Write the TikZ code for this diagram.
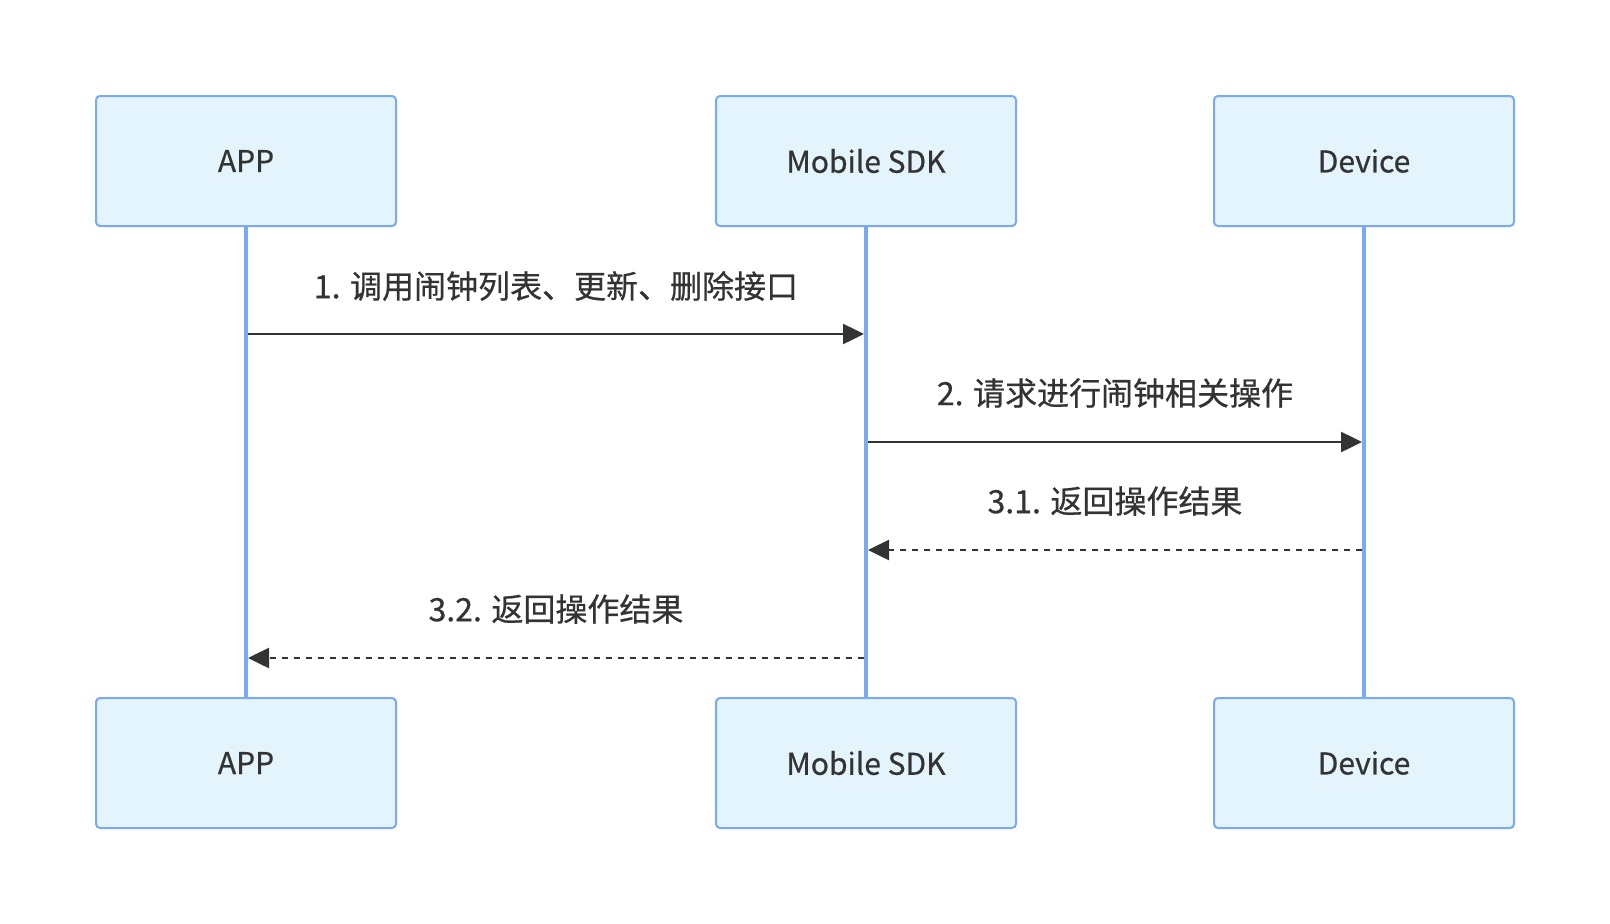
\documentclass[tikz,border=0pt]{standalone}
\usepackage{fontspec}
\setmainfont{Noto Sans CJK SC}[FakeBold=0.6]
\usetikzlibrary{arrows.meta}
\definecolor{boxfill}{HTML}{E3F4FD}
\definecolor{boxline}{HTML}{7AAAF5}
\definecolor{txt}{HTML}{333333}
\tikzset{
  actor/.style={draw=boxline, fill=boxfill, line width=2pt, rounded corners=4pt,
    minimum width=300pt, minimum height=130pt, inner sep=0pt, text=txt,
    font=\fontsize{30}{34}\selectfont},
  life/.style={draw=boxline, line width=3.3pt},
  msg/.style={draw=txt, line width=2.5pt, -{Triangle[length=21pt,width=20pt]}},
  reply/.style={msg, dash pattern=on 6pt off 6pt},
  lbl/.style={text=txt, font=\fontsize{32}{36}\selectfont, inner sep=0pt}
}
\begin{document}
\begin{tikzpicture}[x=1pt,y=-1pt]
\useasboundingbox (0,0) rectangle (1610,924);
% lifelines
\coordinate (la1) at (246,226); \coordinate (la2) at (246,698);
\coordinate (lb1) at (866,226); \coordinate (lb2) at (866,698);
\coordinate (lc1) at (1364,226); \coordinate (lc2) at (1364,698);
\draw[life] (la1) -- (la2);
\draw[life] (lb1) -- (lb2);
\draw[life] (lc1) -- (lc2);
% actors
\node[actor] (appT) at (246,161) {APP};
\node[actor] (sdkT) at (866,161) {Mobile SDK};
\node[actor] (devT) at (1364,161) {Device};
\node[actor] (appB) at (246,763) {APP};
\node[actor] (sdkB) at (866,763) {Mobile SDK};
\node[actor] (devB) at (1364,763) {Device};
% messages
\coordinate (m1s) at (248,334); \coordinate (m1e) at (864,334);
\coordinate (m2s) at (868,442); \coordinate (m2e) at (1362,442);
\coordinate (m3s) at (1362,550); \coordinate (m3e) at (868,550);
\coordinate (m4s) at (864,658); \coordinate (m4e) at (248,658);
\draw[msg] (m1s) -- (m1e);
\draw[msg] (m2s) -- (m2e);
\draw[reply] (m3s) -- (m3e);
\draw[reply] (m4s) -- (m4e);
\node[lbl] (t1) at (556,286) {1. 调用闹钟列表、更新、删除接口};
\node[lbl] (t2) at (1115,393) {2. 请求进行闹钟相关操作};
\node[lbl] (t3) at (1115,501) {3.1. 返回操作结果};
\node[lbl] (t4) at (556,609) {3.2. 返回操作结果};
\end{tikzpicture}
\end{document}
